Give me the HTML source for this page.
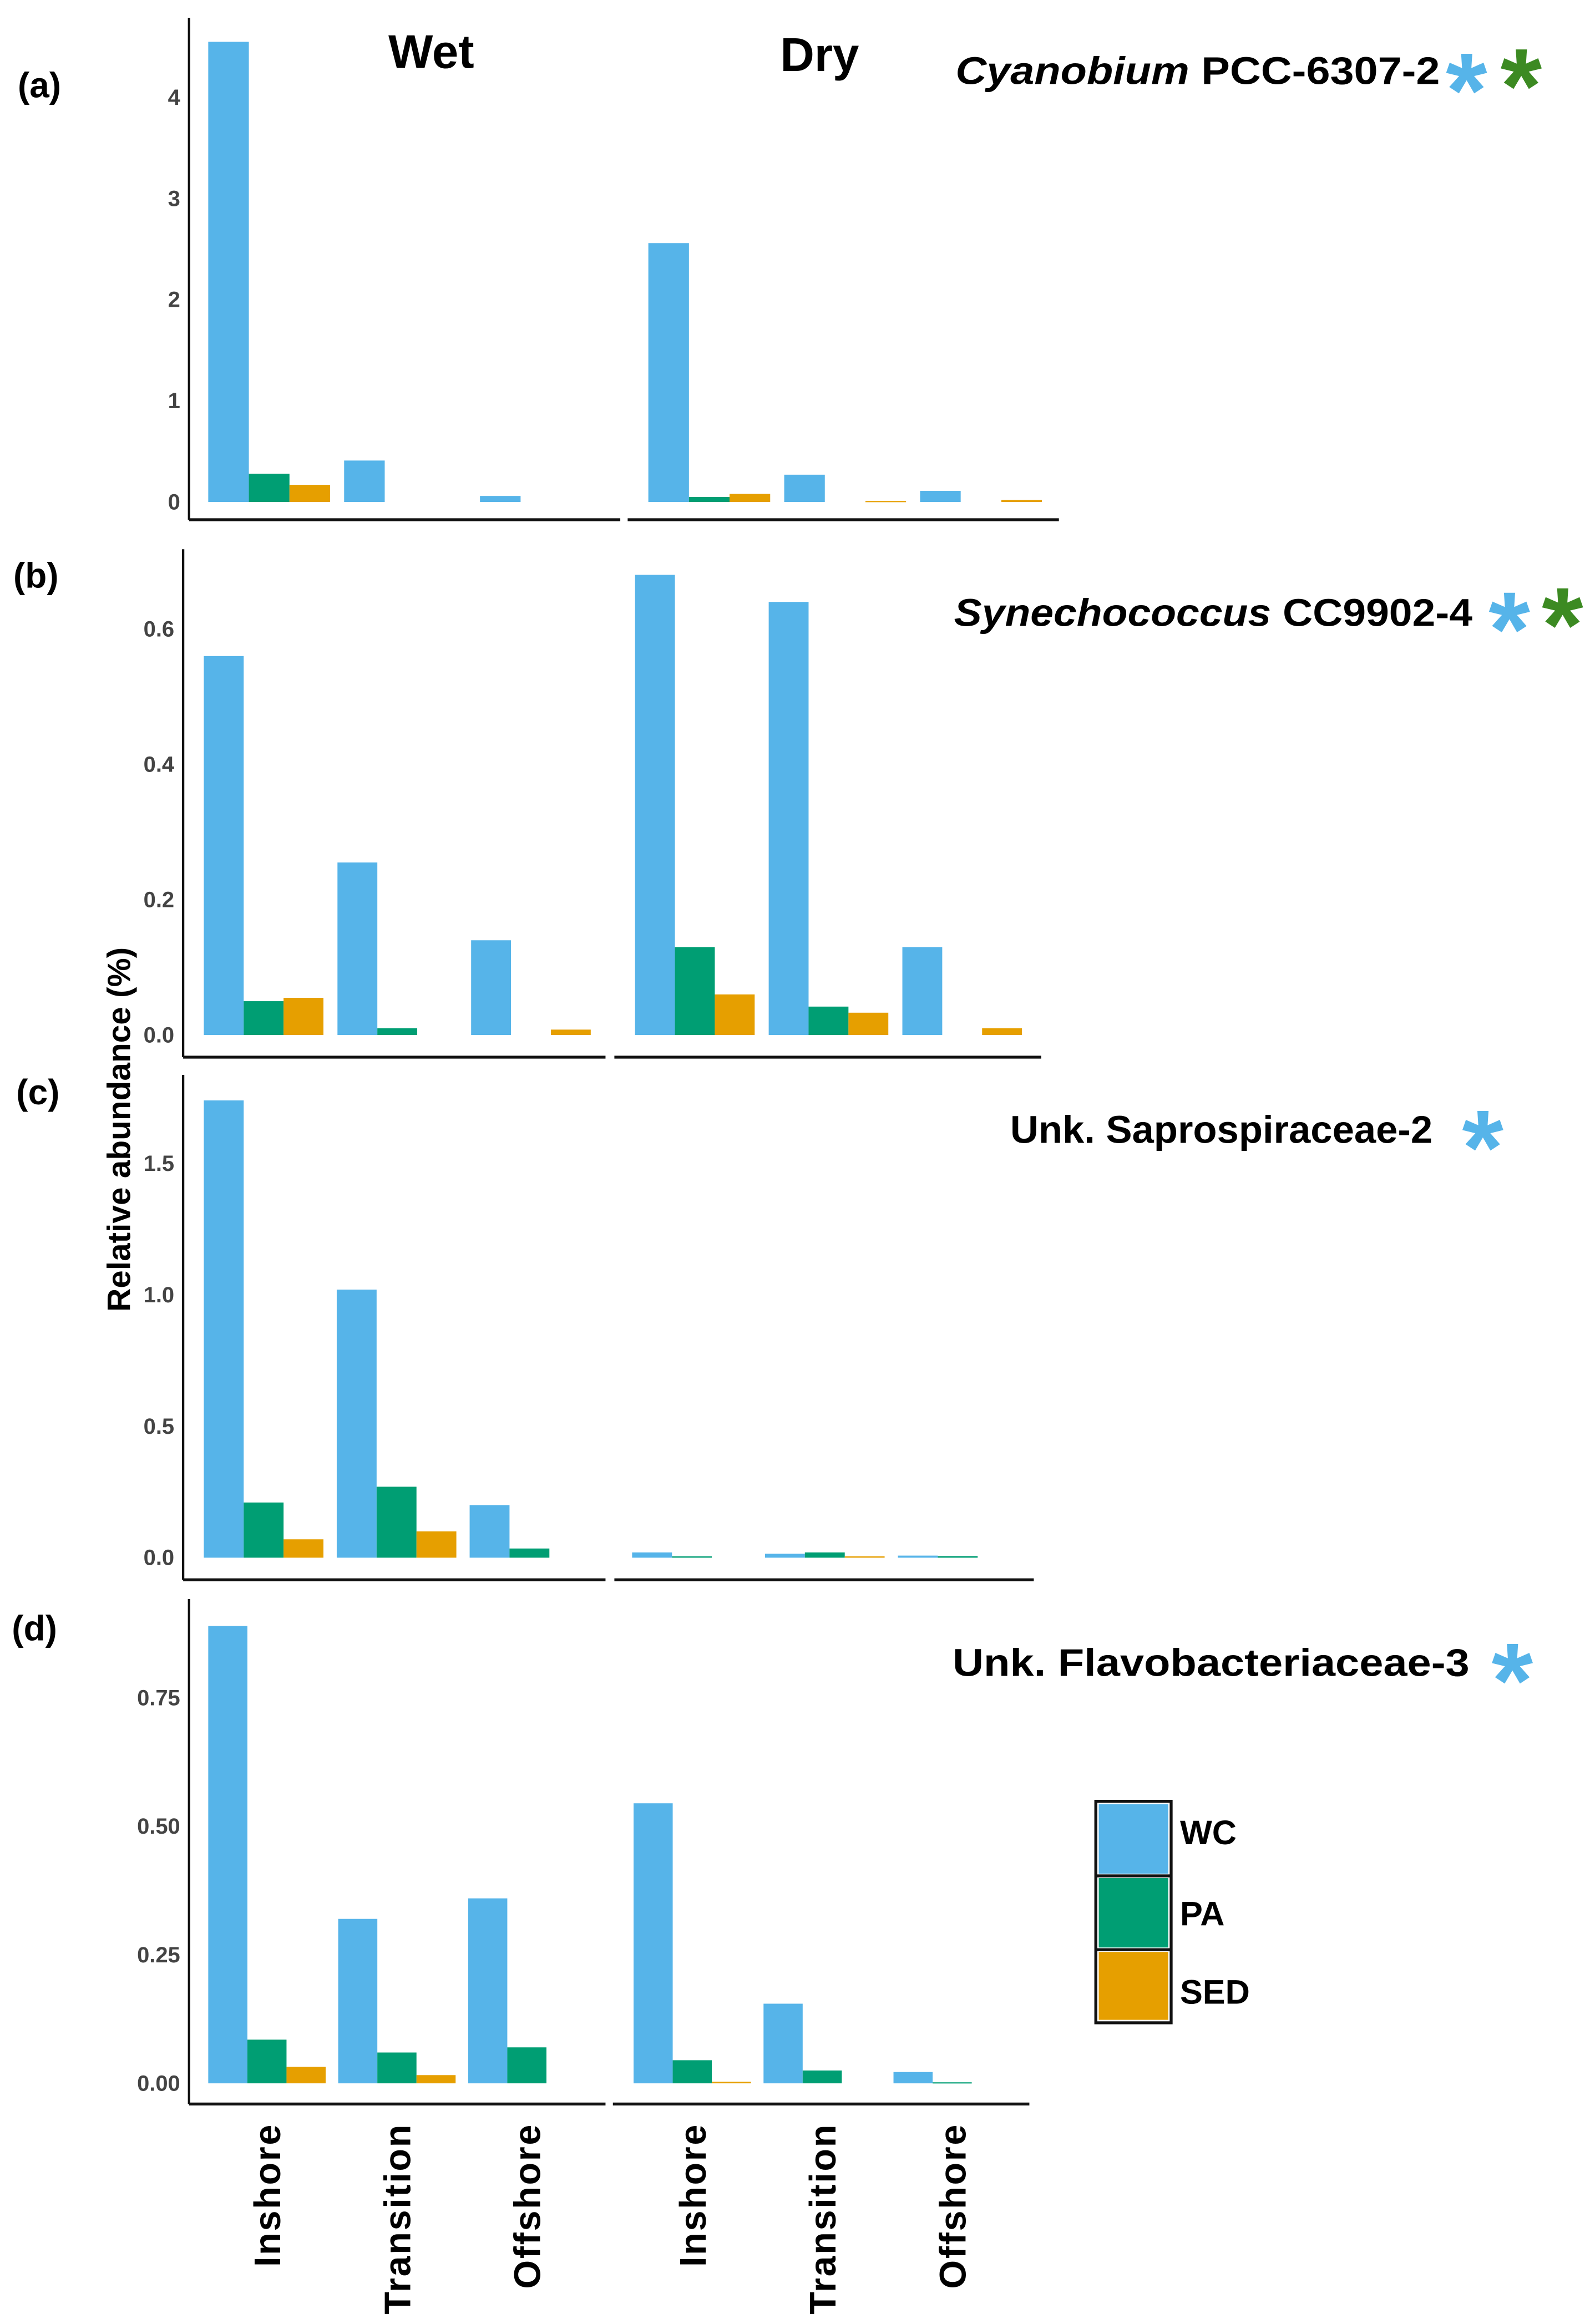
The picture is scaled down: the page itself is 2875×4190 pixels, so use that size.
<!DOCTYPE html>
<html><head><meta charset="utf-8"><style>
html,body{margin:0;padding:0;background:#fff}
svg{display:block}
text{font-family:"Liberation Sans",Arial,sans-serif;font-weight:bold}
</style></head><body>
<svg id="chart" width="2875" height="4190" viewBox="0 0 1080 1574" xmlns="http://www.w3.org/2000/svg">
<rect width="1080" height="1574" fill="#fff"/>
<g id="static">
<text x="292" y="46" font-size="32" text-anchor="middle">Wet</text>
<text x="555" y="48" font-size="32" text-anchor="middle">Dry</text>
<text x="12" y="66" font-size="24">(a)</text>
<text x="9" y="398" font-size="24">(b)</text>
<text x="11" y="748" font-size="24">(c)</text>
<text x="8" y="1111" font-size="24">(d)</text>
<text transform="translate(88,765) rotate(-90)" font-size="22" text-anchor="middle">Relative abundance (%)</text>

<text x="647" y="57" font-size="26" textLength="328" lengthAdjust="spacingAndGlyphs"><tspan font-style="italic">Cyanobium</tspan> PCC-6307-2</text>
<text x="993" y="86" font-size="72" fill="#56B4E9" text-anchor="middle">*</text>
<text x="1030" y="83" font-size="72" fill="#3C8A22" text-anchor="middle">*</text>

<text x="646" y="424" font-size="26" textLength="351" lengthAdjust="spacingAndGlyphs"><tspan font-style="italic">Synechococcus</tspan> CC9902-4</text>
<text x="1022" y="451" font-size="72" fill="#56B4E9" text-anchor="middle">*</text>
<text x="1058" y="448" font-size="72" fill="#3C8A22" text-anchor="middle">*</text>

<text x="684" y="774" font-size="26" textLength="286" lengthAdjust="spacingAndGlyphs">Unk. Saprospiraceae-2</text>
<text x="1004" y="802" font-size="72" fill="#56B4E9" text-anchor="middle">*</text>

<text x="645" y="1135" font-size="26" textLength="350" lengthAdjust="spacingAndGlyphs">Unk. Flavobacteriaceae-3</text>
<text x="1024" y="1163" font-size="72" fill="#56B4E9" text-anchor="middle">*</text>

<g>
<rect x="742" y="1220" width="51" height="150" fill="none" stroke="#111" stroke-width="2"/>
<rect x="744" y="1222" width="47" height="47" fill="#56B4E9"/>
<rect x="744" y="1272" width="47" height="47" fill="#009E73"/>
<rect x="744" y="1322" width="47" height="46" fill="#E69F00"/>
<line x1="742" y1="1270.5" x2="793" y2="1270.5" stroke="#111" stroke-width="2"/>
<line x1="742" y1="1320.5" x2="793" y2="1320.5" stroke="#111" stroke-width="2"/>
<text x="799" y="1249" font-size="23">WC</text>
<text x="799" y="1304" font-size="23">PA</text>
<text x="799" y="1357" font-size="23">SED</text>
</g>
</g>
<g id="marks"></g>
</svg>
<script>
// categories
const seasons = ["Wet", "Dry"];
const sites = ["Inshore", "Transition", "Offshore"];
const fractions = ["WC", "PA", "SED"];
const colors = ["#56B4E9", "#009E73", "#E69F00"];
// panel (a) Cyanobium PCC-6307-2: [season][site][fraction]
const valuesA = [[[4.55, 0.28, 0.17], [0.41, 0, 0], [0.06, 0, 0]],
                 [[2.56, 0.05, 0.08], [0.27, 0, 0.01], [0.11, 0, 0.02]]];
const ticksA = [0, 1, 2, 3, 4];
const tickLabelsA = ["0", "1", "2", "3", "4"];
// panel (b) Synechococcus CC9902-4
const valuesB = [[[0.56, 0.05, 0.055], [0.255, 0.01, 0], [0.14, 0, 0.008]],
                 [[0.68, 0.13, 0.06], [0.64, 0.042, 0.033], [0.13, 0, 0.01]]];
const ticksB = [0, 0.2, 0.4, 0.6];
const tickLabelsB = ["0.0", "0.2", "0.4", "0.6"];
// panel (c) Unk. Saprospiraceae-2
const valuesC = [[[1.74, 0.21, 0.07], [1.02, 0.27, 0.1], [0.2, 0.035, 0]],
                 [[0.02, 0.005, 0], [0.015, 0.02, 0.005], [0.008, 0.006, 0]]];
const ticksC = [0, 0.5, 1.0, 1.5];
const tickLabelsC = ["0.0", "0.5", "1.0", "1.5"];
// panel (d) Unk. Flavobacteriaceae-3
const valuesD = [[[0.89, 0.085, 0.032], [0.32, 0.06, 0.016], [0.36, 0.07, 0]],
                 [[0.545, 0.045, 0.003], [0.155, 0.025, 0], [0.022, 0.002, 0]]];
const ticksD = [0, 0.25, 0.5, 0.75];
const tickLabelsD = ["0.00", "0.25", "0.50", "0.75"];

const NS = "http://www.w3.org/2000/svg";
const marks = document.getElementById("marks");
function mk(tag, attrs) {
  const e = document.createElementNS(NS, tag);
  for (const k in attrs) e.setAttribute(k, attrs[k]);
  marks.appendChild(e);
  return e;
}

// layout (not data)
const layouts = [
  {id:"a", vals:valuesA, ticks:ticksA, labels:tickLabelsA, axX:128, top:12, y0:340, yMaxV:4, yMaxPx:66, base:352, segs:[[128,420],[425,717]], starts:[141,439], step:92, bw:27.5},
  {id:"b", vals:valuesB, ticks:ticksB, labels:tickLabelsB, axX:124, top:372, y0:701, yMaxV:0.6, yMaxPx:426, base:716, segs:[[124,410],[416,705]], starts:[138,430], step:90.5, bw:27},
  {id:"c", vals:valuesC, ticks:ticksC, labels:tickLabelsC, axX:124, top:728, y0:1055, yMaxV:1.5, yMaxPx:788, base:1070, segs:[[124,410],[416,700]], starts:[138,428], step:90, bw:27},
  {id:"d", vals:valuesD, ticks:ticksD, labels:tickLabelsD, axX:128, top:1083, y0:1411, yMaxV:0.75, yMaxPx:1150, base:1425, segs:[[128,410],[415,697]], starts:[141,429], step:88, bw:26.5}
];

layouts.forEach(function(L) {
  const yScale = function(v) { return L.y0 - (L.y0 - L.yMaxPx) * v / L.yMaxV; };
  const ax = mk("line", {x1:L.axX, y1:L.top, x2:L.axX, y2:L.base, stroke:"#111", "stroke-width":1.6});
  
  
  L.segs.forEach(function(s, si) {
    const l = mk("line", {x1:s[0], y1:L.base, x2:s[1], y2:L.base, stroke:"#111", "stroke-width":2});
    
    
  });
  L.ticks.forEach(function(t, i) {
    const tx = mk("text", {x:L.axX - 6, y:yScale(t) + 5, "font-size":15, fill:"#444", "text-anchor":"end"});
    tx.textContent = L.labels[i];
    
    
  });
  L.vals.forEach(function(seasonVals, si) {
    seasonVals.forEach(function(siteVals, gi) {
      siteVals.forEach(function(v, fi) {
        if (v <= 0) return;
        const x = L.starts[si] + gi * L.step + fi * L.bw;
        const yt = yScale(v);
        const r = mk("rect", {x:x, y:yt, width:L.bw, height:Math.max(L.y0 - yt, 0.8), fill:colors[fi]});
        
        
      });
    });
  });
});

// x category labels (bottom panel)
const xLab = layouts[3];
seasons.forEach(function(s, si) {
  sites.forEach(function(site, gi) {
    const cx = xLab.starts[si] + gi * xLab.step + xLab.bw * 1.5 + 9;
    const t = mk("text", {transform:"translate(" + cx + ",1438) rotate(-90)", "font-size":25, "letter-spacing":"1", "text-anchor":"end"});
    t.textContent = site;
    
    
  });
});
</script>
</body></html>
